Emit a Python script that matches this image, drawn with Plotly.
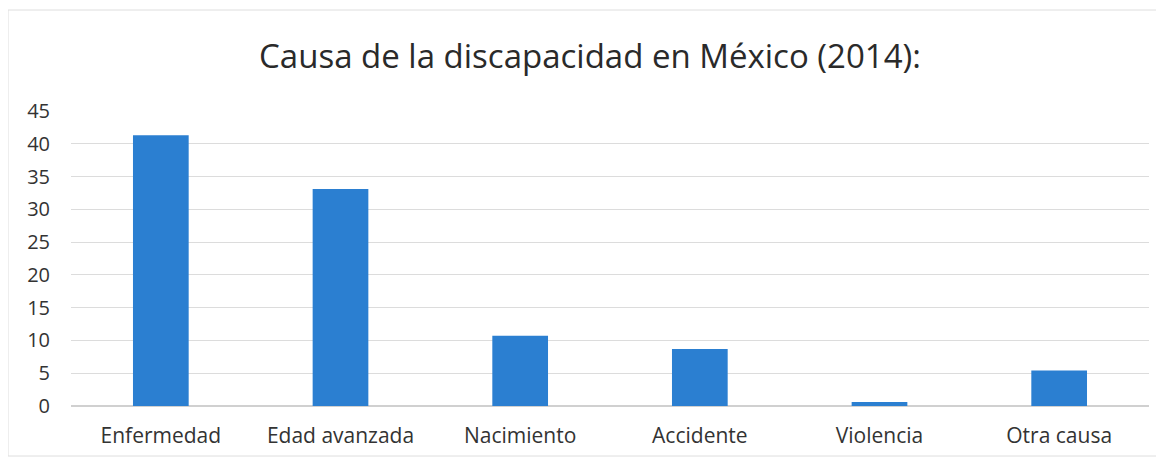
import plotly.graph_objects as go

categories = ["Enfermedad", "Edad avanzada", "Nacimiento", "Accidente", "Violencia", "Otra causa"]
values = [41.3, 33.1, 10.7, 8.7, 0.6, 5.4]
y_ticks = [0, 5, 10, 15, 20, 25, 30, 35, 40, 45]
title_text = "Causa de la discapacidad en México (2014):"

# page body has an 8px margin; compensate so the figure lines up with the window
OFF = 8
W, H = 1164 - OFF, 460 - OFF
ml, mr, mt, mb = 71 - OFF, 15, 111 - OFF, 54

fig = go.Figure(go.Bar(
    x=categories, y=values,
    marker=dict(color="#2b7fd1", line=dict(width=0)),
))

fig.update_layout(
    width=W, height=H,
    margin=dict(l=ml, r=mr, t=mt, b=mb),
    paper_bgcolor="white", plot_bgcolor="white",
    bargap=0.69,
    font=dict(family="Open Sans", color="#333333"),
    title=dict(text=title_text, x=(590 - OFF) / W, xref="container", y=1 - (56 - OFF) / H,
               yref="container", xanchor="center", yanchor="middle",
               font=dict(size=33, color="#2a2a2a", family="Open Sans")),
    xaxis=dict(showgrid=False, showline=False, ticks="", tickfont=dict(size=21, color="#333333"),
               ticklabelstandoff=15),
    yaxis=dict(range=[0, 45], tickvals=y_ticks, showgrid=True, gridcolor="#dcdcdc",
               gridwidth=1, zeroline=True, zerolinecolor="#d0d0d0", showline=False,
               tickfont=dict(size=20, color="#333333"), ticklabelstandoff=20),
    showlegend=False,
)

# chart frame
pw = W - ml - mr
ph = H - mt - mb
x0 = (8 - OFF - ml) / pw
x1 = (1160 - OFF - ml) / pw
y0 = 1 - (456 - OFF - mt) / ph
y1 = 1 - (10 - OFF - mt) / ph
fig.add_shape(type="rect", xref="paper", yref="paper", x0=x0, x1=x1, y0=y0, y1=y1,
              line=dict(color="#dedede", width=1), layer="below")

fig.write_html("out.html")
